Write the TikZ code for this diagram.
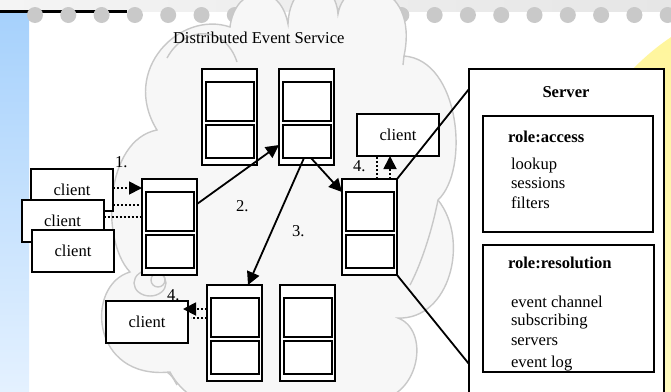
\documentclass[tikz,border=0pt]{standalone}
\usepackage{fontspec}
\setmainfont{Liberation Serif}
\usetikzlibrary{arrows.meta,calc}

\definecolor{bandL}{HTML}{F4F4F4}
\definecolor{bandR}{HTML}{E6E6E6}
\definecolor{dotgray}{HTML}{C9C9C9}
\definecolor{barTop}{HTML}{A6D1FC}
\definecolor{barBot}{HTML}{E4F1FF}
\definecolor{sunTop}{HTML}{FFF599}
\definecolor{sunBot}{HTML}{FFFBC8}
\definecolor{cloudFill}{HTML}{F7F7F7}
\definecolor{cloudLine}{HTML}{C8C8C8}

\newcommand\srvstack[3]{%
  \node[srvout] (#1) at (#2,#3) {};
  \node[srvin, minimum height=39pt] (#1-up) at (#2+4,#3+13) {};
  \node[srvin, minimum height=33pt] (#1-lo) at (#2+4,#3+56) {};
}

\begin{document}
\begin{tikzpicture}[x=1pt,y=-1pt,
  every node/.style={inner sep=0pt, outer sep=0pt, font=\fontsize{16.6}{20}\selectfont},
  srvout/.style={draw, line width=1.8pt, fill=white, anchor=north west,
                 minimum width=55pt, minimum height=96pt},
  srvin/.style={draw, line width=2.3pt, fill=white, anchor=north west,
                minimum width=48pt},
  clientbox/.style={draw, line width=2pt, fill=white,
                    minimum width=82pt, minimum height=42pt},
  panel/.style={draw, line width=1.8pt, fill=white, anchor=north west},
  txt/.style={anchor=base west},
  tip/.style={-{Triangle[length=13pt,width=13pt]}},
  solidlink/.style={line width=1.8pt},
  dotlink/.style={line width=1.8pt, dash pattern=on 2pt off 2pt},
  cloudedge/.style={draw=cloudLine, line width=1.4pt}
]
\useasboundingbox (0,0) rectangle (671,391);
\clip (0,0) rectangle (671,391);

% page background
\fill[white] (0,0) rectangle (671,391);
\shade[left color=bandL, right color=bandR] (0,0) rectangle (671,11);
\shade[top color=barTop, bottom color=barBot] (0,12.5) rectangle (29,391);
\draw[line width=3pt] (0,11) -- (127,11);
\foreach \k in {0,...,19} \fill[dotgray] (35+33.3*\k,15) circle (8);
\shade[top color=sunTop, bottom color=sunBot] (800,230) circle (232);

% cloud behind the service
\path[fill=cloudFill, cloudedge]
  (157,130) .. controls (120,70) and (180,10) .. (230,27)
  .. controls (235,-15) and (280,-20) .. (288,24)
  .. controls (290,-25) and (335,-25) .. (338,14)
  .. controls (345,-30) and (420,-20) .. (404,56)
  .. controls (460,60) and (470,170) .. (438,200)
  .. controls (470,240) and (450,320) .. (398,318)
  .. controls (430,330) and (420,395) .. (378,400)
  .. controls (330,440) and (200,430) .. (170,372)
  .. controls (90,380) and (85,285) .. (130,272)
  .. controls (100,240) and (105,140) .. cycle;
\draw[cloudedge] (167,58) .. controls (185,25) and (225,25) .. (237,62);
\draw[cloudedge] (404,56) .. controls (404,60) .. (403,65);
\draw[cloudedge] (438,200) .. controls (430,240) and (418,270) .. (410,285);
\draw[cloudedge] (150,283) ellipse (16 and 13);
\draw[cloudedge] (158,280) circle (7);
\draw[cloudedge] (167,372) .. controls (172,376) .. (177,385);

\node[txt] (title) at (173,43) {Distributed Event Service};

% event servers
\srvstack{A}{202}{69}
\srvstack{B}{279}{69}
\srvstack{C}{142}{179}
\srvstack{D}{342}{179}
\srvstack{E}{207}{285}
\srvstack{F}{280}{285}

% clients
\node[clientbox] (c1) at (72,189.5) {client};
\node[clientbox] (c2) at (62.5,221) {client};
\node[clientbox] (c3) at (73,250.5) {client};
\node[clientbox] (c4) at (398,135) {client};
\node[clientbox] (c5) at (147,322) {client};

% server detail panel
\node[panel, minimum width=195pt, minimum height=340pt] (srvbox) at (469,69) {};
\node[anchor=base] (srvtitle) at (566,97) {\bfseries Server};
\node[panel, minimum width=170pt, minimum height=116pt] (access) at (483,116) {};
\node[txt] (accT) at (508,142) {\bfseries role:access};
\node[txt] (acc1) at (511,169) {lookup};
\node[txt] (acc2) at (511,188) {sessions};
\node[txt] (acc3) at (511,208) {filters};
\node[panel, minimum width=171pt, minimum height=127pt] (resol) at (483,245) {};
\node[txt] (resT) at (508,268) {\bfseries role:resolution};
\node[txt] (res1) at (511,307) {event channel};
\node[txt] (res2) at (511,325) {subscribing};
\node[txt] (res3) at (511,345) {servers};
\node[txt] (res4) at (511,367) {event log};

% zoom lines to the detail panel
\draw[solidlink] (D.north east) -- ([yshift=-20pt]srvbox.north west);
\draw[solidlink] (D.south east) -- ([yshift=-295pt]srvbox.north west);

% step 1: clients to access server
\draw[dotlink, tip] (c1.east |- 0,188) -- (C.west |- 0,188);
\draw[dotlink] (c1.east |- 0,205) -- (C.west |- 0,205);
\draw[dotlink] (c2.east |- 0,217) -- (C.west |- 0,217);
\node[txt] (n1) at (115,167) {1.};

% step 2 and 3: forwarding through the service
\draw[solidlink, tip] (C.east |- 0,204) -- (B.west |- 0,145);
\node[txt] (n2) at (236,211) {2.};
\draw[solidlink, tip] ([xshift=-3pt]B-lo.south) -- ([xshift=13.5pt]E.north);
\node[txt] (n3) at (292,236) {3.};
\draw[solidlink, tip] ([xshift=4pt]B-lo.south) -- (D.west |- D-up.north);

% step 4: delivery to clients
\draw[dotlink] ([xshift=7.5pt]D.north) -- ([xshift=7.5pt]D.north |- c4.south);
\draw[dotlink, tip] ([xshift=20.5pt]D.north) -- ([xshift=20.5pt]D.north |- c4.south);
\node[txt] (n4a) at (353,171) {4.};
\draw[dotlink, tip, shorten >=-5pt] (E.west |- 0,309) -- (c5.east |- 0,309);
\draw[dotlink] (E.west |- 0,318) -- ([xshift=3pt]c5.east |- 0,318);
\node[txt] (n4b) at (167,300) {4.};
\end{tikzpicture}
\end{document}
